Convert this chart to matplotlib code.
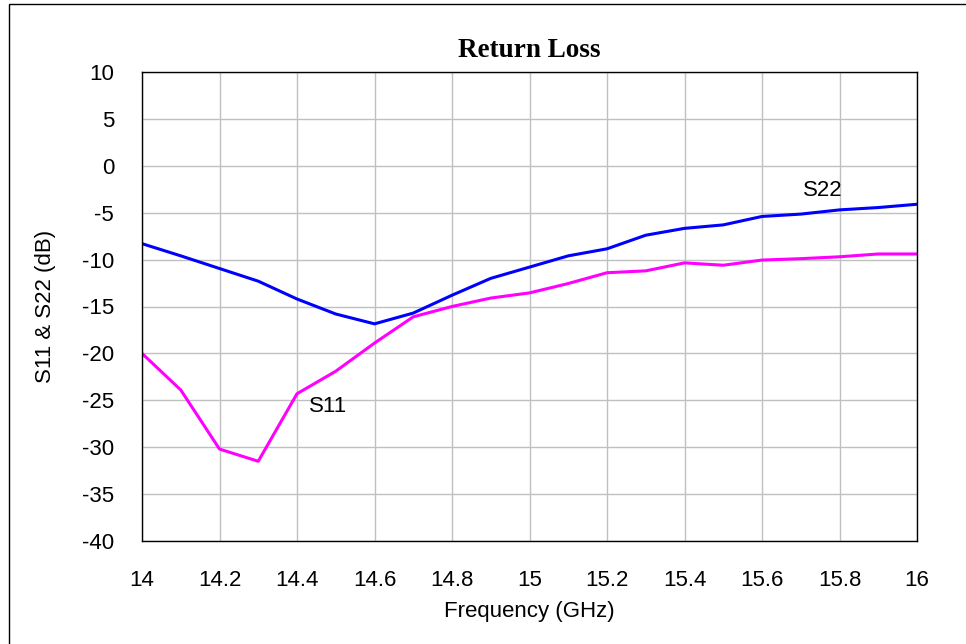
import matplotlib
matplotlib.use('Agg')
import matplotlib.pyplot as plt
from matplotlib.patches import Rectangle

freq = [14.0, 14.1, 14.2, 14.3, 14.4, 14.5, 14.6, 14.7, 14.8, 14.9, 15.0,
        15.1, 15.2, 15.3, 15.4, 15.5, 15.6, 15.7, 15.8, 15.9, 16.0]
s11 = [-20.0, -23.9, -30.2, -31.5, -24.3, -21.9, -18.9, -16.1, -15.0, -14.1, -13.55,
       -12.55, -11.4, -11.2, -10.35, -10.6, -10.05, -9.9, -9.7, -9.4, -9.4]
s22 = [-8.3, -9.6, -10.95, -12.3, -14.2, -15.8, -16.85, -15.7, -13.8, -12.0, -10.8,
       -9.6, -8.85, -7.4, -6.67, -6.3, -5.4, -5.15, -4.7, -4.45, -4.1]
xticks = [14, 14.2, 14.4, 14.6, 14.8, 15, 15.2, 15.4, 15.6, 15.8, 16]
xlabels = ['14', '14.2', '14.4', '14.6', '14.8', '15', '15.2', '15.4', '15.6', '15.8', '16']
yticks = [10, 5, 0, -5, -10, -15, -20, -25, -30, -35, -40]

plt.rcParams['font.family'] = ['Liberation Sans', 'DejaVu Sans']
plt.rcParams['axes.unicode_minus'] = False

W, H = 966, 644
fig = plt.figure(figsize=(9.66, 6.44), dpi=100)
ax = fig.add_axes([142 / W, 1 - 541 / H, (917 - 142) / W, (541 - 72) / H])

ax.plot(freq, s22, color='#0000ff', lw=2.2)
ax.plot(freq, s11, color='#ff00ff', lw=2.2)

ax.set_xlim(14, 16)
ax.set_ylim(-40, 10)
ax.set_xticks(xticks)
ax.set_xticklabels(xlabels)
ax.set_yticks(yticks)
ax.grid(True, color='#c0c0c0', lw=1)
ax.set_axisbelow(True)
ax.tick_params(length=0, labelsize=16)
ax.tick_params(axis='x', pad=21)
ax.tick_params(axis='y', pad=20)
for sp in ax.spines.values():
    sp.set_color('black')
    sp.set_linewidth(1)

ax.text(15.757, -2.6, 'S22', fontsize=16, ha='center', va='center')
ax.text(14.48, -25.7, 'S11', fontsize=16, ha='center', va='center')

ax.set_title('Return Loss', fontsize=19.5, fontweight='bold',
             family='Liberation Serif', pad=11)
ax.set_xlabel('Frequency (GHz)', fontsize=16, labelpad=7)
ax.set_ylabel('S11 & S22 (dB)', fontsize=16, labelpad=19)

fig.patches.append(Rectangle((9 / W, -0.5), 2, 1.5 - 4 / H, transform=fig.transFigure,
                             fill=False, edgecolor='black', lw=1))

fig.savefig('out.png', dpi=100)
